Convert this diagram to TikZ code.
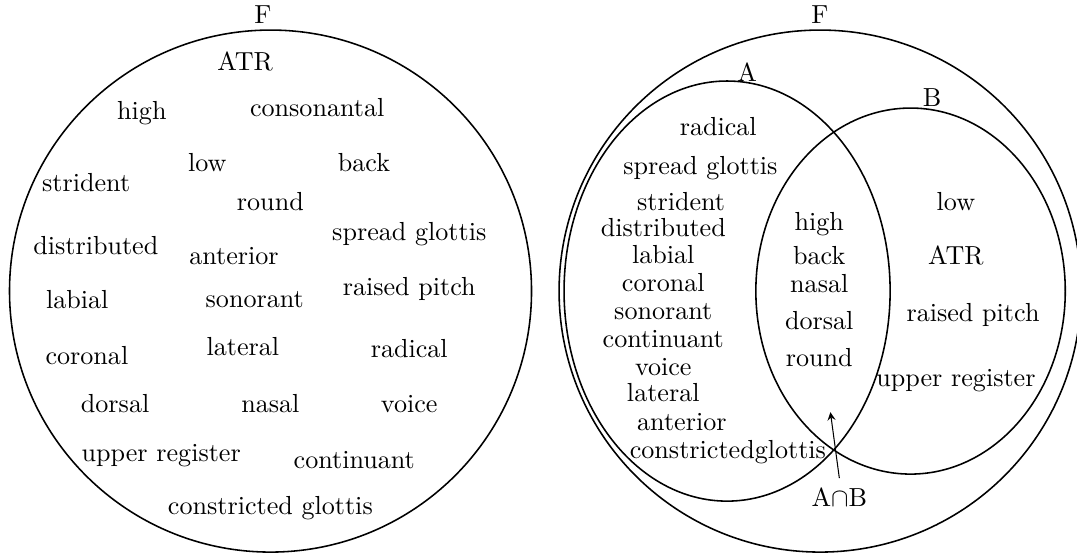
\documentclass[tikz,border=0pt]{standalone}
\usepackage{tikz}
\begin{document}
\begin{tikzpicture}[semithick,>=stealth]
\useasboundingbox (0,0) rectangle (14.50,7.46);
% left: the whole set F
\draw (3.642,3.541) circle (3.514);
\node (fL) at (3.54,7.26) {F};
\node (lATR) at (3.30,6.63) {ATR};
\node (lhigh) at (1.91,5.94) {high};
\node (lcons) at (4.27,6.01) {consonantal};
\node (llow) at (2.79,5.27) {low};
\node (lback) at (4.90,5.27) {back};
\node (lstri) at (1.16,5.00) {strident};
\node (lround) at (3.64,4.75) {round};
\node (ldist) at (1.29,4.15) {distributed};
\node (lant) at (3.15,4.01) {anterior};
\node (lspread) at (5.51,4.31) {spread glottis};
\node (llab) at (1.04,3.42) {labial};
\node (lson) at (3.43,3.42) {sonorant};
\node (lraised) at (5.51,3.57) {raised pitch};
\node (lcor) at (1.17,2.67) {coronal};
\node (llat) at (3.27,2.79) {lateral};
\node (lrad) at (5.51,2.77) {radical};
\node (ldors) at (1.55,2.02) {dorsal};
\node (lnas) at (3.64,2.02) {nasal};
\node (lvoice) at (5.51,2.02) {voice};
\node (lupper) at (2.17,1.33) {upper register};
\node (lcont) at (4.77,1.27) {continuant};
\node (lconstr) at (3.64,0.62) {constricted glottis};
% right: F with A and B
\draw (11.041,3.541) circle (3.514);
\draw (9.789,3.541) ellipse (2.195 and 2.828);
\draw (12.259,3.541) ellipse (2.083 and 2.464);
\node (fR) at (11.04,7.26) {F};
\node (setA) at (10.06,6.49) {A};
\node (setB) at (12.55,6.14) {B};
\node (rrad) at (9.67,5.75) {radical};
\node (rspread) at (9.43,5.20) {spread glottis};
\node (rstri) at (9.17,4.75) {strident};
\foreach \name/\txt/\y in {rdist/distributed/4.40, rlab/labial/4.03, rcor/coronal/3.65,
    rson/sonorant/3.27, rcont/continuant/2.90, rvoice/voice/2.52, rlat/lateral/2.17}{
    \node (\name) at (8.93,\y) {\txt};
}
\node (rant) at (9.18,1.78) {anterior};
\node (rconstr) at (9.80,1.37) {constrictedglottis};
\node (rhigh) at (11.03,4.44) {high};
\node (rback) at (11.03,4.02) {back};
\node (rnas) at (11.03,3.64) {nasal};
\node (rdors) at (11.03,3.15) {dorsal};
\node (rround) at (11.03,2.65) {round};
\node (rlow) at (12.87,4.75) {low};
\node (rATR) at (12.87,4.02) {ATR};
\node (rraised) at (13.10,3.22) {raised pitch};
\node (rupper) at (12.87,2.34) {upper register};
\node (AB) at (11.30,0.77) {A$\cap$B};
\coordinate (ABtip) at (11.18,1.91);
\draw[->,thin] (AB.north) -- (ABtip);
\end{tikzpicture}
\end{document}
